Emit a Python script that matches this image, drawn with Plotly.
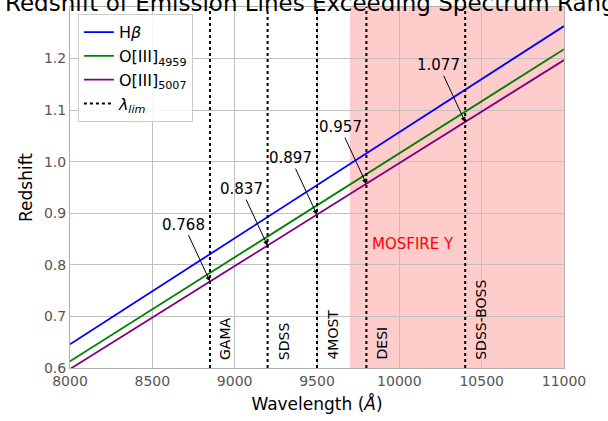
import plotly.graph_objects as go

# ---- data ----
wave_ends = [8000, 11000]
z_hbeta = [0.646, 1.263]
z_o4959 = [0.613, 1.218]
z_o5007 = [0.598, 1.197]
line_names = ["H<i>β</i>", "O[III]<sub>4959</sub>", "O[III]<sub>5007</sub>"]
line_colors = ["blue", "green", "purple"]

cut_waves = [8850, 9200, 9500, 9800, 10400]
cut_names = ["GAMA", "SDSS", "4MOST", "DESI", "SDSS-BOSS"]
cut_z = [0.768, 0.837, 0.897, 0.957, 1.077]
cut_labels = ["0.768", "0.837", "0.897", "0.957", "1.077"]

mosfire_range = [9700, 11000]

FONT = "DejaVu Sans"
fig = go.Figure()

# shaded MOSFIRE Y band
fig.add_shape(type="rect", xref="x", yref="paper", x0=mosfire_range[0], x1=mosfire_range[1],
              y0=0, y1=1, fillcolor="rgba(255,0,0,0.2)", line_width=0, layer="between")

for name, zs, col in zip(line_names, [z_hbeta, z_o4959, z_o5007], line_colors):
    fig.add_trace(go.Scatter(x=wave_ends, y=zs, mode="lines", name=name,
                             line=dict(color=col, width=1.8)))

for i, w in enumerate(cut_waves):
    fig.add_trace(go.Scatter(x=[w, w], y=[0.6, 1.3], mode="lines",
                             name="<i>λ<sub>lim</sub></i>", showlegend=(i == 0),
                             line=dict(color="black", width=2, dash="dot")))

annotations = []
for w, z, lab, nm in zip(cut_waves, cut_z, cut_labels, cut_names):
    annotations.append(dict(x=w, y=z, xref="x", yref="y", ax=w - 160, ay=z + 0.11,
                            axref="x", ayref="y", text=lab, showarrow=True,
                            arrowhead=2, arrowsize=1, arrowwidth=1, arrowcolor="black",
                            font=dict(family=FONT, size=15, color="black")))
    annotations.append(dict(x=w + 35, y=0.612, xref="x", yref="y", text=nm, textangle=-90,
                            showarrow=False, xanchor="left", yanchor="bottom",
                            font=dict(family=FONT, size=14, color="black")))

annotations.append(dict(x=10083, y=0.84, xref="x", yref="y", text="MOSFIRE Y", showarrow=False,
                        font=dict(family=FONT, size=15, color="red")))
annotations.append(dict(x=0.5, y=1, xref="paper", yref="paper", yanchor="bottom", yshift=-11,
                        text="Redshift of Emission Lines Exceeding Spectrum Range", showarrow=False,
                        font=dict(family=FONT, size=23, color="black")))

fig.update_layout(
    width=608, height=421,
    margin=dict(l=70, r=44, t=7, b=53, autoexpand=False),
    paper_bgcolor="white", plot_bgcolor="white",
    font=dict(family=FONT, color="black"),
    annotations=annotations,
    showlegend=True,
    legend=dict(x=0.016, y=0.98, xanchor="left", yanchor="top",
                bgcolor="rgba(255,255,255,0.85)", bordercolor="#cccccc", borderwidth=1,
                font=dict(family=FONT, size=16), itemwidth=30),
    xaxis=dict(range=[8000, 11000], dtick=500, tickformat="d", showgrid=True, gridcolor="#c0c0c0",
               gridwidth=1, automargin=False,
               showline=True, linecolor="#b0b0b0", linewidth=1, mirror=True, zeroline=False,
               ticks="", tickfont=dict(family=FONT, size=14, color="#555555"),
               title=dict(text="Wavelength (<i>Å</i>)", font=dict(family=FONT, size=17), standoff=10)),
    yaxis=dict(range=[0.6, 1.3], dtick=0.1, tickformat=".1f", showgrid=True, gridcolor="#c0c0c0",
               gridwidth=1, automargin=False, showline=True, linecolor="#b0b0b0", linewidth=1, mirror=True,
               zeroline=False, ticks="", tickfont=dict(family=FONT, size=14, color="#555555"),
               title=dict(text="Redshift", font=dict(family=FONT, size=17), standoff=6)),
)

fig.write_html("out.html", config={"displayModeBar": False},
               post_script="document.body.style.margin='0';document.body.style.overflow='hidden';")
